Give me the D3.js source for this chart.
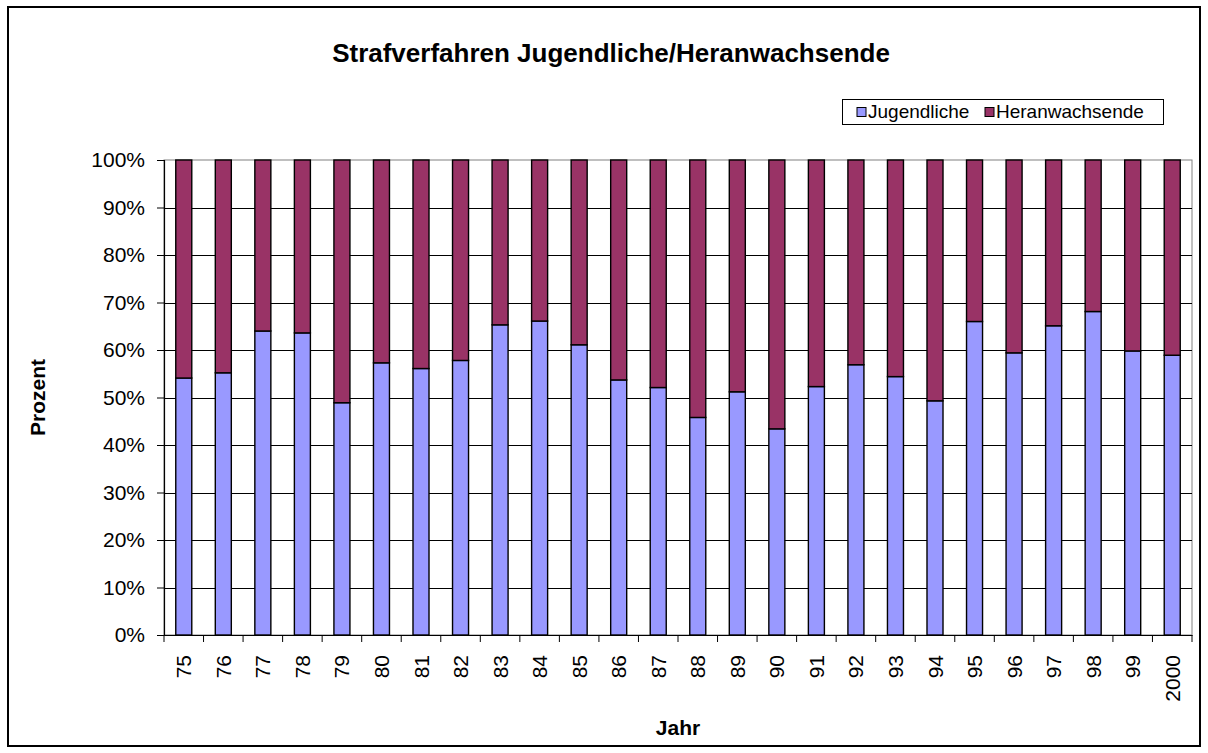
<!DOCTYPE html>
<html>
<head>
<meta charset="utf-8">
<script src="https://cdn.jsdelivr.net/npm/d3@7"></script>
<style>
  html, body { margin: 0; padding: 0; background: #fff; }
  svg { display: block; font-family: "Liberation Sans", Arial, sans-serif; }
</style>
</head>
<body>
<svg id="chart" width="1208" height="753"></svg>
<script>
const years = ["75","76","77","78","79","80","81","82","83","84","85","86","87","88","89","90","91","92","93","94","95","96","97","98","99","2000"];
const jugendliche = [54.1, 55.2, 64.0, 63.6, 48.9, 57.3, 56.1, 57.8, 65.3, 66.1, 61.1, 53.7, 52.1, 45.8, 51.2, 43.4, 52.3, 56.9, 54.4, 49.3, 66.0, 59.4, 65.1, 68.1, 59.8, 58.9];
const heranwachsende = [45.9, 44.8, 36.0, 36.4, 51.1, 42.7, 43.9, 42.2, 34.7, 33.9, 38.9, 46.3, 47.9, 54.2, 48.8, 56.6, 47.7, 43.1, 45.6, 50.7, 34.0, 40.6, 34.9, 31.9, 40.2, 41.1];
const seriesNames = ["Jugendliche", "Heranwachsende"];
const seriesColors = ["#9999FF", "#993366"];
const yTicks = [0, 0.1, 0.2, 0.3, 0.4, 0.5, 0.6, 0.7, 0.8, 0.9, 1.0];
const titleText = "Strafverfahren Jugendliche/Heranwachsende";
const xTitle = "Jahr";
const yTitle = "Prozent";

const svg = d3.select("#chart");
const L = 164, R = 1192, T = 160, B = 635;

// outer border
svg.append("rect").attr("x", 8).attr("y", 7).attr("width", 1192).attr("height", 739)
  .attr("fill", "#fff").attr("stroke", "#000").attr("stroke-width", 2);

const table = years.map((y, i) => ({ year: y, Jugendliche: jugendliche[i], Heranwachsende: heranwachsende[i] }));
const stacked = d3.stack().keys(seriesNames).offset(d3.stackOffsetExpand)(table);

const x = d3.scaleBand().domain(years).range([L, R]).paddingInner(0.595).paddingOuter(0.2975);
const y = d3.scaleLinear().domain([0, 1]).range([B, T]);

// plot area border (gray)
svg.append("rect").attr("x", L).attr("y", T).attr("width", R - L).attr("height", B - T)
  .attr("fill", "none").attr("stroke", "#808080").attr("stroke-width", 1);

// gridlines
svg.append("g").selectAll("line").data(yTicks.filter(t => t > 0 && t < 1)).join("line")
  .attr("x1", L).attr("x2", R)
  .attr("y1", d => Math.round(y(d)) + 0.5).attr("y2", d => Math.round(y(d)) + 0.5)
  .attr("stroke", "#000").attr("stroke-width", 1);

// bars
svg.append("g").selectAll("g").data(stacked).join("g")
  .attr("fill", (d, i) => seriesColors[i])
  .selectAll("rect").data(d => d).join("rect")
  .attr("x", d => x(d.data.year))
  .attr("width", x.bandwidth())
  .attr("y", d => y(d[1]))
  .attr("height", d => y(d[0]) - y(d[1]))
  .attr("stroke", "#000").attr("stroke-width", 1.4);

// y axis
const yAxis = d3.axisLeft(y).tickValues(yTicks).tickFormat(d3.format(".0%")).tickSize(7).tickPadding(12);
const gy = svg.append("g").attr("transform", `translate(${L},0)`).call(yAxis);
gy.select(".domain").attr("stroke", "#000").attr("stroke-width", 1.2);
gy.selectAll(".tick line").attr("stroke", "#000");
gy.selectAll("text").attr("font-size", 21).attr("fill", "#000").attr("font-family", '"Liberation Sans", Arial, sans-serif');

// x axis
const xAxis = d3.axisBottom(x).tickSize(0).tickPadding(0);
const gx = svg.append("g").attr("transform", `translate(0,${B})`).call(xAxis);
gx.select(".domain").attr("stroke", "#000").attr("stroke-width", 1.2);
gx.selectAll(".tick text")
  .attr("font-size", 21).attr("fill", "#000").attr("font-family", '"Liberation Sans", Arial, sans-serif')
  .attr("text-anchor", "end")
  .attr("transform", "translate(0,20) rotate(-90)")
  .attr("x", 0).attr("y", 0).attr("dy", "0.36em");
// category boundary ticks
const step = x.step();
const boundaries = d3.range(years.length + 1).map(i => L + i * step);
svg.append("g").selectAll("line").data(boundaries).join("line")
  .attr("x1", d => d).attr("x2", d => d).attr("y1", B).attr("y2", B + 7)
  .attr("stroke", "#000").attr("stroke-width", 1);

// title
svg.append("text").attr("x", 611).attr("y", 62).attr("text-anchor", "middle")
  .attr("font-size", 26).attr("font-weight", "bold").text(titleText);

// axis titles
svg.append("text").attr("x", (L + R) / 2).attr("y", 735).attr("text-anchor", "middle")
  .attr("font-size", 21).attr("font-weight", "bold").text(xTitle);
svg.append("text").attr("transform", `translate(45,${(T + B) / 2}) rotate(-90)`).attr("text-anchor", "middle")
  .attr("font-size", 21).attr("font-weight", "bold").text(yTitle);

// legend
const lg = svg.append("g");
lg.append("rect").attr("x", 842.5).attr("y", 99.5).attr("width", 321).attr("height", 25)
  .attr("fill", "#fff").attr("stroke", "#000").attr("stroke-width", 1);
const legendX = [857, 985];
seriesNames.forEach((name, i) => {
  lg.append("rect").attr("x", legendX[i]).attr("y", 107.5).attr("width", 9).attr("height", 9)
    .attr("fill", seriesColors[i]).attr("stroke", "#000").attr("stroke-width", 1);
  lg.append("text").attr("x", legendX[i] + 11).attr("y", 118).attr("font-size", 19).text(name);
});
</script>
</body>
</html>
